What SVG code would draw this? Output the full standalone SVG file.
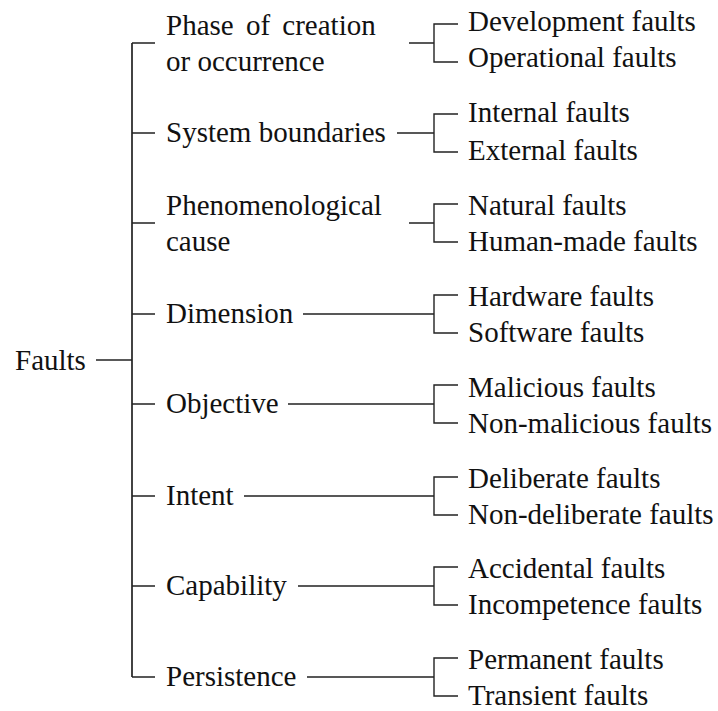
<svg xmlns="http://www.w3.org/2000/svg" width="718" height="711" viewBox="0 0 718 711">
  <style>
    .ln { stroke: #222; stroke-width: 1.4; fill: none; }
    .trunk { stroke: #222; stroke-width: 1.7; fill: none; }
    svg g text.t { font-family: "Liberation Serif", serif !important; font-size: 29px; fill: #111; }
  </style>
  <rect width="718" height="711" fill="#fff"/>

  <!-- connectors -->
  <g id="connectors">
    <line class="ln" x1="96" y1="360" x2="132" y2="360"/>
    <line class="trunk" x1="132" y1="43" x2="132" y2="677"/>
    <!-- category ticks -->
    <path class="ln" d="M132 43H155 M132 133H155 M132 223H155 M132 314H155 M132 404H155 M132 496H155 M132 586H155 M132 677H155"/>
    <!-- category to bracket -->
    <path class="ln" d="M409 43H434 M397 133H434 M409 223H434 M303 314H434 M288 404H434 M244 496H434 M298 586H434 M307 677H434"/>
    <!-- brackets -->
    <path class="ln" d="M458 24H434V62H458"/>
    <path class="ln" d="M458 114H434V152H458"/>
    <path class="ln" d="M458 204H434V242H458"/>
    <path class="ln" d="M458 295H434V333H458"/>
    <path class="ln" d="M458 385H434V423H458"/>
    <path class="ln" d="M458 477H434V515H458"/>
    <path class="ln" d="M458 567H434V605H458"/>
    <path class="ln" d="M458 658H434V696H458"/>
  </g>

  <g id="root"><text class="t" x="15" y="370" style="font-family:'Liberation Serif',serif">Faults</text></g>

  <g id="phase">
    <text class="t" x="166" y="35" word-spacing="5" style="font-family:'Liberation Serif',serif">Phase of creation</text>
    <text class="t" x="166" y="71" style="font-family:'Liberation Serif',serif">or occurrence</text>
  </g>
  <g id="boundaries"><text class="t" x="166" y="142" style="font-family:'Liberation Serif',serif">System boundaries</text></g>
  <g id="cause">
    <text class="t" x="166" y="215" style="font-family:'Liberation Serif',serif">Phenomenological</text>
    <text class="t" x="166" y="251" style="font-family:'Liberation Serif',serif">cause</text>
  </g>
  <g id="dimension"><text class="t" x="166" y="323" style="font-family:'Liberation Serif',serif">Dimension</text></g>
  <g id="objective"><text class="t" x="166" y="413" style="font-family:'Liberation Serif',serif">Objective</text></g>
  <g id="intent"><text class="t" x="166" y="505" style="font-family:'Liberation Serif',serif">Intent</text></g>
  <g id="capability"><text class="t" x="166" y="595" style="font-family:'Liberation Serif',serif">Capability</text></g>
  <g id="persistence"><text class="t" x="166" y="686" style="font-family:'Liberation Serif',serif">Persistence</text></g>

  <g id="phase-kinds">
    <text class="t" x="468" y="31" style="font-family:'Liberation Serif',serif">Development faults</text>
    <text class="t" x="468" y="67" style="font-family:'Liberation Serif',serif">Operational faults</text>
  </g>
  <g id="boundary-kinds">
    <text class="t" x="468" y="122" style="font-family:'Liberation Serif',serif">Internal faults</text>
    <text class="t" x="468" y="160" style="font-family:'Liberation Serif',serif">External faults</text>
  </g>
  <g id="cause-kinds">
    <text class="t" x="468" y="215" style="font-family:'Liberation Serif',serif">Natural faults</text>
    <text class="t" x="468" y="251" style="font-family:'Liberation Serif',serif">Human-made faults</text>
  </g>
  <g id="dimension-kinds">
    <text class="t" x="468" y="306" style="font-family:'Liberation Serif',serif">Hardware faults</text>
    <text class="t" x="468" y="342" style="font-family:'Liberation Serif',serif">Software faults</text>
  </g>
  <g id="objective-kinds">
    <text class="t" x="468" y="397" style="font-family:'Liberation Serif',serif">Malicious faults</text>
    <text class="t" x="468" y="433" style="font-family:'Liberation Serif',serif">Non-malicious faults</text>
  </g>
  <g id="intent-kinds">
    <text class="t" x="468" y="488" style="font-family:'Liberation Serif',serif">Deliberate faults</text>
    <text class="t" x="468" y="524" style="font-family:'Liberation Serif',serif">Non-deliberate faults</text>
  </g>
  <g id="capability-kinds">
    <text class="t" x="468" y="578" style="font-family:'Liberation Serif',serif">Accidental faults</text>
    <text class="t" x="468" y="614" style="font-family:'Liberation Serif',serif">Incompetence faults</text>
  </g>
  <g id="persistence-kinds">
    <text class="t" x="468" y="669" style="font-family:'Liberation Serif',serif">Permanent faults</text>
    <text class="t" x="468" y="705" style="font-family:'Liberation Serif',serif">Transient faults</text>
  </g>
</svg>
